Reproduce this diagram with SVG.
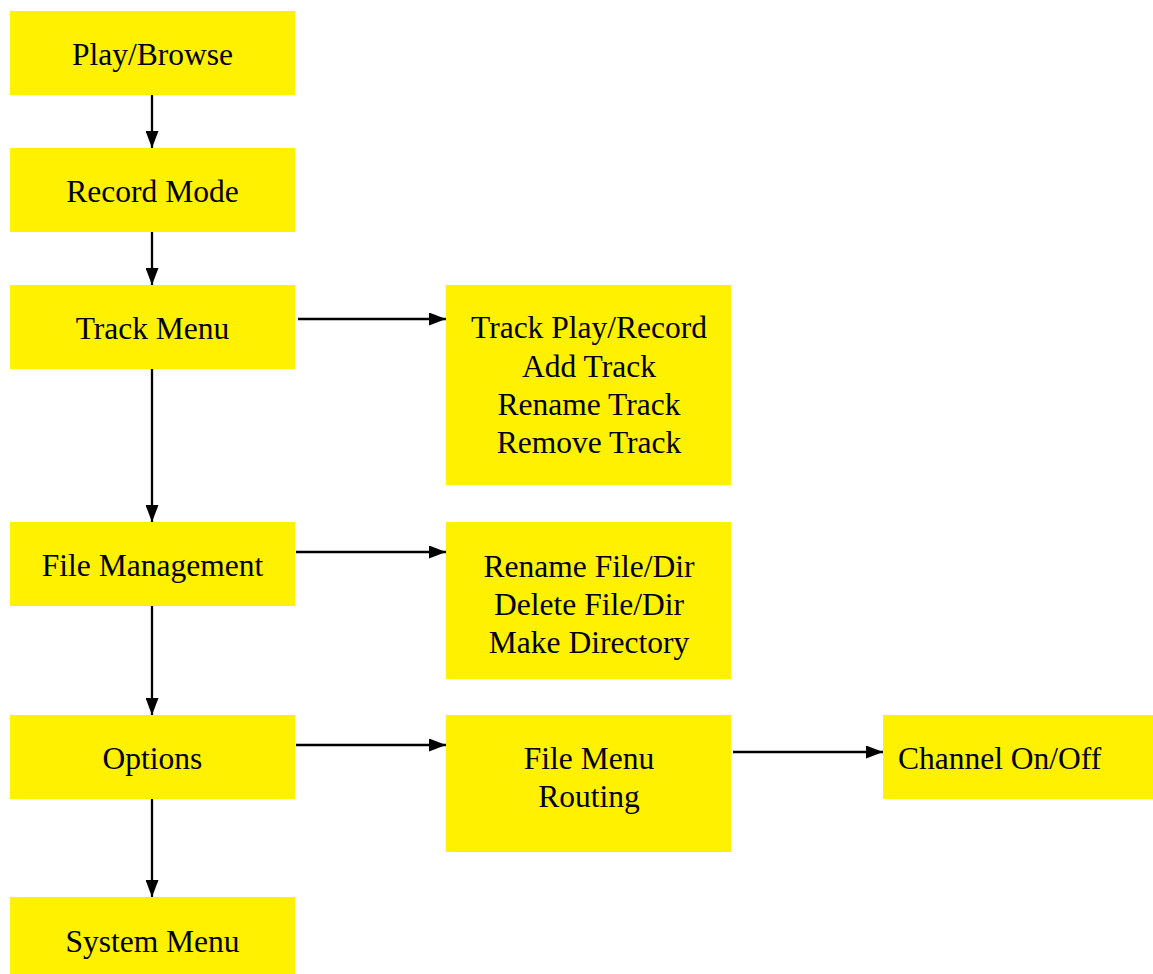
<svg xmlns="http://www.w3.org/2000/svg" width="1153" height="974" viewBox="0 0 1153 974">
<style>
.box{fill:#FFF100;}
.t{font-family:"Liberation Serif","Times New Roman",serif;font-size:31.5px;fill:#000;text-anchor:middle;}
.c{stroke:#000;stroke-width:2.3;fill:none;marker-end:url(#ah);}
</style>
<defs>
<marker id="ah" markerWidth="17" markerHeight="13" refX="17" refY="6.5" orient="auto" markerUnits="userSpaceOnUse">
<path d="M0,0 L17,6.5 L0,13 Z" fill="#000"/>
</marker>
</defs>
<rect width="1153" height="974" fill="#fff"/>
<g id="connectors">
<line class="c" x1="152" y1="95" x2="152" y2="148"/>
<line class="c" x1="152" y1="232" x2="152" y2="285"/>
<line class="c" x1="152" y1="369" x2="152" y2="522"/>
<line class="c" x1="152" y1="606" x2="152" y2="715"/>
<line class="c" x1="152" y1="799" x2="152" y2="897"/>
<line class="c" x1="298" y1="319" x2="446" y2="319"/>
<line class="c" x1="296" y1="552" x2="446" y2="552"/>
<line class="c" x1="296" y1="745" x2="446" y2="745"/>
<line class="c" x1="733" y1="752" x2="883" y2="752"/>
</g>
<g id="play-browse"><rect class="box" x="10" y="11" width="285" height="84"/><text class="t" x="152.5" y="65">Play/Browse</text></g>
<g id="record-mode"><rect class="box" x="10" y="148" width="285" height="84"/><text class="t" x="152.5" y="202">Record Mode</text></g>
<g id="track-menu"><rect class="box" x="10" y="285" width="285" height="84"/><text class="t" x="152.5" y="339">Track Menu</text></g>
<g id="file-management"><rect class="box" x="10" y="522" width="285" height="84"/><text class="t" x="152.5" y="576">File Management</text></g>
<g id="options"><rect class="box" x="10" y="715" width="285" height="84"/><text class="t" x="152.5" y="769">Options</text></g>
<g id="system-menu"><rect class="box" x="10" y="897" width="285" height="77"/><text class="t" x="152.5" y="952">System Menu</text></g>
<g id="track-sub"><rect class="box" x="446" y="285" width="285" height="200"/>
<text class="t" x="589" y="338">Track Play/Record</text>
<text class="t" x="589" y="377">Add Track</text>
<text class="t" x="589" y="415">Rename Track</text>
<text class="t" x="589" y="453">Remove Track</text></g>
<g id="file-sub"><rect class="box" x="446" y="522" width="285" height="157"/>
<text class="t" x="589" y="577">Rename File/Dir</text>
<text class="t" x="589" y="615">Delete File/Dir</text>
<text class="t" x="589" y="653">Make Directory</text></g>
<g id="file-menu-routing"><rect class="box" x="446" y="715" width="285" height="137"/>
<text class="t" x="589" y="769">File Menu</text>
<text class="t" x="589" y="807">Routing</text></g>
<g id="channel"><rect class="box" x="883" y="715" width="270" height="84"/>
<text class="t" x="898" y="769" style="text-anchor:start">Channel On/Off</text></g>
</svg>
